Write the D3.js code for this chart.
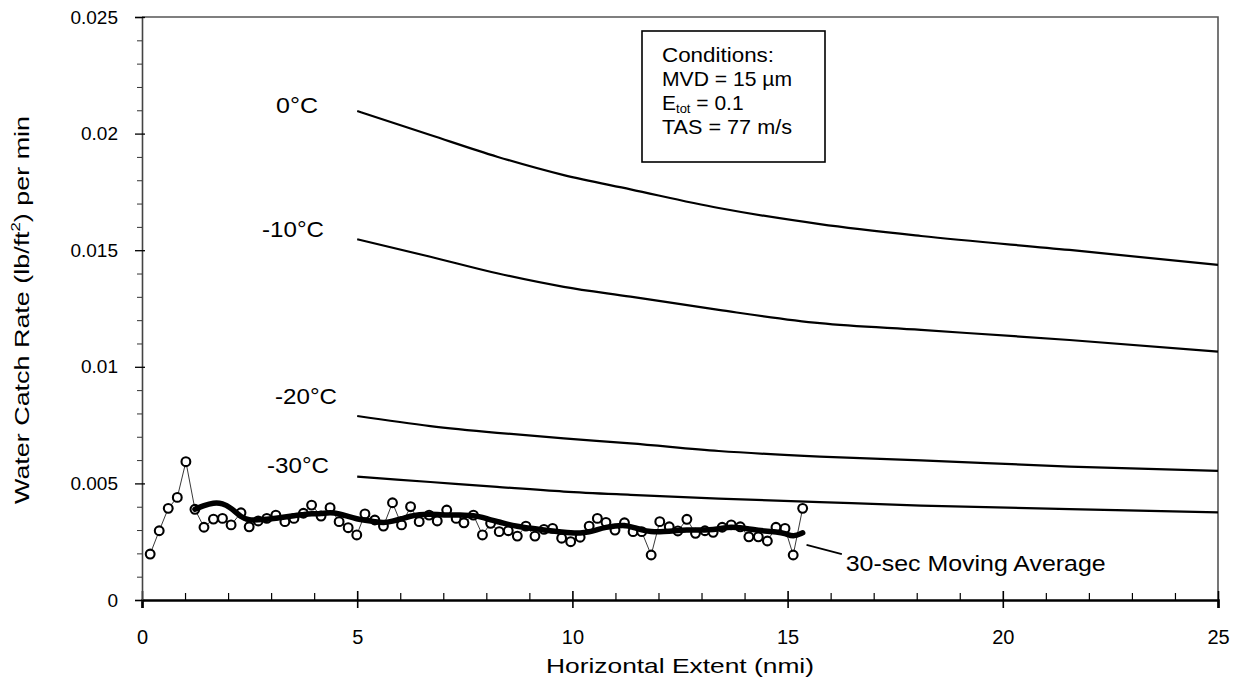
<!DOCTYPE html>
<html>
<head>
<meta charset="utf-8">
<script src="https://cdn.jsdelivr.net/npm/d3@7"></script>
<style>
  body { margin: 0; background: #fff; }
  text { font-family: "Liberation Sans", Arial, sans-serif; fill: #000; }
</style>
</head>
<body>
<svg id="chart" width="1234" height="683"></svg>
<script>
// Measured water catch rate, 5-second samples (nmi, lb/ft^2 per min)
const obsX = [0.19,0.40,0.61,0.82,1.02,1.23,1.44,1.66,1.87,2.07,2.30,2.49,2.70,2.90,3.11,3.32,3.53,3.75,3.94,4.16,
  4.37,4.58,4.79,4.99,5.18,5.41,5.61,5.82,6.03,6.24,6.44,6.67,6.86,7.08,7.30,7.48,7.70,7.91,8.10,8.30,
  8.51,8.72,8.92,9.13,9.34,9.54,9.75,9.96,10.18,10.39,10.58,10.78,10.99,11.21,11.41,11.61,11.83,12.03,12.25,12.45,
  12.66,12.86,13.08,13.27,13.48,13.69,13.90,14.10,14.32,14.53,14.73,14.94,15.13,15.35];
const obsY = [0.00197,0.00297,0.00393,0.00440,0.00593,0.00389,0.00312,0.00347,0.00350,0.00322,0.00374,0.00314,0.00339,0.00350,0.00364,0.00336,0.00350,0.00372,0.00407,0.00360,
  0.00396,0.00336,0.00310,0.00279,0.00369,0.00343,0.00317,0.00417,0.00322,0.00400,0.00336,0.00364,0.00339,0.00386,0.00350,0.00331,0.00364,0.00279,0.00329,0.00293,
  0.00297,0.00274,0.00317,0.00274,0.00303,0.00307,0.00265,0.00250,0.00269,0.00317,0.00350,0.00333,0.00300,0.00331,0.00293,0.00293,0.00193,0.00336,0.00314,0.00296,
  0.00346,0.00286,0.00297,0.00290,0.00312,0.00322,0.00314,0.00271,0.00271,0.00253,0.00312,0.00307,0.00193,0.00393];

// 30-second moving average of the samples
const avgX = [1.23,1.44,1.66,1.87,2.07,2.30,2.49,2.70,2.90,3.11,3.32,3.53,3.75,3.94,4.16,
  4.37,4.58,4.79,4.99,5.18,5.41,5.61,5.82,6.03,6.24,6.44,6.67,6.86,7.08,7.30,7.48,7.70,7.91,8.10,8.30,
  8.51,8.72,8.92,9.13,9.34,9.54,9.75,9.96,10.18,10.39,10.58,10.78,10.99,11.21,11.41,11.61,11.83,12.03,12.25,12.45,
  12.66,12.86,13.08,13.27,13.48,13.69,13.90,14.10,14.32,14.53,14.73,14.94,15.13,15.35];
const avgY = [0.00389,0.00405,0.00417,0.00415,0.00395,0.00355,0.00342,0.00344,0.00346,0.00350,0.00356,0.00362,0.00366,0.00370,0.00370,
  0.00376,0.00370,0.00358,0.00348,0.00342,0.00336,0.00330,0.00338,0.00348,0.00360,0.00366,0.00368,0.00367,0.00364,0.00364,0.00364,0.00363,0.00355,0.00343,0.00335,
  0.00324,0.00316,0.00310,0.00306,0.00300,0.00296,0.00292,0.00288,0.00286,0.00292,0.00302,0.00312,0.00318,0.00322,0.00312,0.00300,0.00293,0.00292,0.00295,0.00298,
  0.00300,0.00300,0.00300,0.00302,0.00308,0.00314,0.00310,0.00304,0.00299,0.00295,0.00292,0.00287,0.00270,0.00288];

// Predicted catch rate versus horizontal extent at four static temperatures
const curveX  = [5, 6.7, 8.25, 9.8, 11.35, 13.4, 15.75, 18.1, 21.55, 25];
const curve0   = [0.02097,0.01994,0.01901,0.01822,0.01761,0.01681,0.01612,0.01561,0.01501,0.01437];
const curveM10 = [0.01547,0.01472,0.01401,0.01343,0.01301,0.01244,0.01187,0.01158,0.01115,0.01065];
const curveM20 = [0.00789,0.00746,0.00717,0.00693,0.00672,0.00639,0.00615,0.00599,0.00572,0.00554];
const curveM30 = [0.00529,0.00506,0.00485,0.00465,0.00451,0.00435,0.00420,0.00405,0.00390,0.00376];
const curveLabels = ["0°C", "-10°C", "-20°C", "-30°C"];

const xTicks = [0, 5, 10, 15, 20, 25];
const yTicks = [0, 0.005, 0.01, 0.015, 0.02, 0.025];
const yTickLabels = ["0", "0.005", "0.01", "0.015", "0.02", "0.025"];
const xMinor = [1,2,3,4,6,7,8,9,11,12,13,14,16,17,18,19,21,22,23,24];
const yMinor = [0.001,0.002,0.003,0.004,0.006,0.007,0.008,0.009,0.011,0.012,0.013,0.014,0.016,0.017,0.018,0.019,0.021,0.022,0.023,0.024];

const svg = d3.select("#chart");
const plotL = 142, plotR = 1218, plotT = 17, plotB = 600;
const x = d3.scaleLinear().domain([0, 25]).range([plotL, plotR]);
const y = d3.scaleLinear().domain([0, 0.025]).range([plotB, plotT]);

// text helper with a fixed rendered width
function wideText(parent, str, px, py, size, width, anchor) {
  return parent.append("text").attr("x", px).attr("y", py)
    .attr("font-size", size).attr("text-anchor", anchor || "start")
    .attr("textLength", width).attr("lengthAdjust", "spacingAndGlyphs")
    .text(str);
}

// frame: top and right edges
svg.append("path")
  .attr("d", `M${plotL},${plotT}H${plotR}V${plotB}`)
  .attr("fill", "none").attr("stroke", "#555").attr("stroke-width", 1.6);

// x axis
const xAxis = svg.append("g").attr("transform", `translate(0,${plotB})`)
  .call(d3.axisBottom(x).tickValues(xTicks).tickSize(8).tickPadding(22)
    .tickFormat(d3.format("d")));
xAxis.select(".domain").attr("stroke", "#000").attr("stroke-width", 2.6);
xAxis.selectAll(".tick line").attr("y1", -9).attr("y2", 8).attr("stroke-width", 1.6);
xAxis.selectAll(".tick text").attr("font-size", 20).attr("font-family", null);
svg.append("g").attr("transform", `translate(0,${plotB})`)
  .call(d3.axisBottom(x).tickValues(xMinor).tickSize(-7).tickFormat(""))
  .call(g => g.select(".domain").remove())
  .selectAll(".tick line").attr("stroke-width", 1.2);

// y axis
const yAxis = svg.append("g").attr("transform", `translate(${plotL},0)`)
  .call(d3.axisLeft(y).tickValues(yTicks).tickSize(7).tickPadding(17)
    .tickFormat((d, i) => yTickLabels[i]));
yAxis.select(".domain").attr("stroke", "#444").attr("stroke-width", 1.6);
yAxis.selectAll(".tick line").attr("x2", -7).attr("x1", 3).attr("stroke-width", 1.3);
yAxis.selectAll(".tick text").attr("font-size", 19).attr("font-family", null);
svg.append("g").attr("transform", `translate(${plotL},0)`)
  .call(d3.axisLeft(y).tickValues(yMinor).tickSize(5).tickFormat(""))
  .call(g => g.select(".domain").remove())
  .selectAll(".tick line").attr("stroke-width", 1).attr("stroke", "#333");

// axis titles
wideText(svg, "Horizontal Extent (nmi)", 680, 673, 21, 268, "middle");
const yTitle = svg.append("text")
  .attr("transform", `translate(29,310) rotate(-90)`)
  .attr("text-anchor", "middle").attr("font-size", 21)
  .attr("textLength", 388).attr("lengthAdjust", "spacingAndGlyphs");
yTitle.append("tspan").text("Water Catch Rate (lb/ft");
yTitle.append("tspan").attr("font-size", 13).attr("dy", -9).text("2");
yTitle.append("tspan").attr("dy", 9).text(") per min");

// temperature curves
const curveLine = d3.line().x(d => x(d[0])).y(d => y(d[1])).curve(d3.curveMonotoneX);
const curves = [curve0, curveM10, curveM20, curveM30];
curves.forEach((vals) => {
  const pts = curveX.map((cx, i) => [cx, vals[i]]);
  svg.append("path").datum(pts).attr("d", curveLine)
    .attr("fill", "none").attr("stroke", "#000").attr("stroke-width", 2.2);
});
const labelRight = [318, 324, 337, 329];
const labelShift = [2.5, -2, -12, -4];
const labelWidth = [42, 62, 62, 62];
curves.forEach((vals, k) => {
  wideText(svg, curveLabels[k], labelRight[k], y(vals[0]) + labelShift[k], 22, labelWidth[k], "end");
});

// measured samples
const obs = obsX.map((v, i) => [v, obsY[i]]);
svg.append("path").datum(obs)
  .attr("d", d3.line().x(d => x(d[0])).y(d => y(d[1])))
  .attr("fill", "none").attr("stroke", "#222").attr("stroke-width", 0.9);
svg.append("g").selectAll("circle").data(obs).join("circle")
  .attr("cx", d => x(d[0])).attr("cy", d => y(d[1])).attr("r", 4.4)
  .attr("fill", "#fff").attr("stroke", "#000").attr("stroke-width", 2.1);

// moving average
const avg = avgX.map((v, i) => [v, avgY[i]]);
svg.append("path").datum(avg)
  .attr("d", d3.line().x(d => x(d[0])).y(d => y(d[1])).curve(d3.curveBasis))
  .attr("fill", "none").attr("stroke", "#000").attr("stroke-width", 5.5)
  .attr("stroke-linecap", "round").attr("stroke-linejoin", "round");

// moving-average callout
svg.append("line")
  .attr("x1", x(15.44)).attr("y1", y(0.00236))
  .attr("x2", x(16.26)).attr("y2", y(0.00197))
  .attr("stroke", "#000").attr("stroke-width", 1.8);
wideText(svg, "30-sec Moving Average", x(16.35), y(0.00125), 22, 260);

// conditions box
const box = svg.append("g");
box.append("rect").attr("x", 642).attr("y", 31).attr("width", 183).attr("height", 131)
  .attr("fill", "#fff").attr("stroke", "#000").attr("stroke-width", 1.6);
wideText(box, "Conditions:", 662, 62, 21, 112);
wideText(box, "MVD = 15 µm", 662, 86, 21, 130);
const eLine = box.append("text").attr("x", 662).attr("y", 110).attr("font-size", 21);
eLine.append("tspan").text("E");
eLine.append("tspan").attr("font-size", 13).attr("dy", 3).text("tot");
eLine.append("tspan").attr("dy", -3).text(" = 0.1");
wideText(box, "TAS = 77 m/s", 662, 134, 21, 130);
</script>
</body>
</html>
